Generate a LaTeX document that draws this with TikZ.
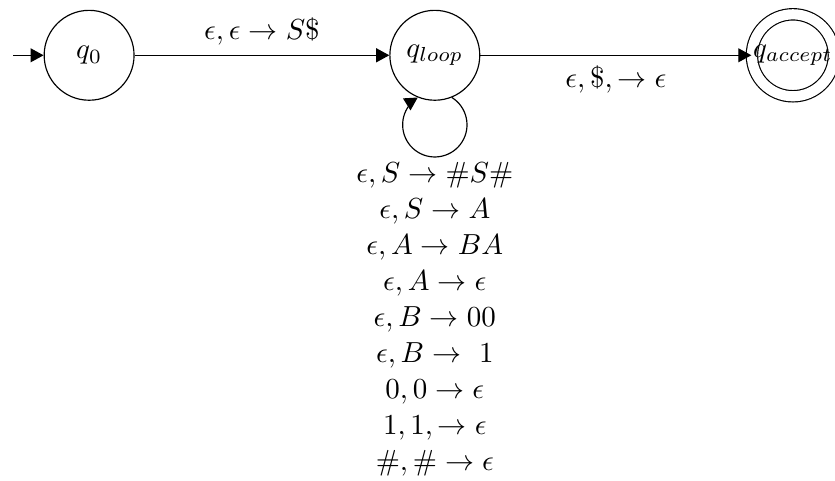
\documentclass[tikz,border=0pt]{standalone}
\usetikzlibrary{arrows.meta}

\begin{document}
\begin{tikzpicture}[>={Triangle[length=4.5pt, width=4.8pt]}, line join=round,
	state/.style={draw, circle, minimum size=31pt, inner sep=0pt},
	accept/.style={state, double, double distance=3.5pt, minimum size=27.5pt}]

	\useasboundingbox (0,0) rectangle (10.12,5.82);

	% ================= states =================
	\node[state]  (q0)    at (1.08,5.15) {$q_0$};
	\node[state]  (qloop) at (5.27,5.15) {$q_{loop}$};
	\node[accept] (qacc)  at (9.61,5.15) {$q_{accept}$};
	\coordinate (start) at (0.16,5.15);

	% ================= transitions =================
	\draw[->] (start) -- (q0);
	\draw[->] (q0) -- (qloop) node[midway, above] {$\epsilon, \epsilon \to S\$$};
	\draw[->] (qloop) -- (qacc) node[midway, below] {$\epsilon, \$, \to \epsilon$};
	\draw[->] (qloop.-68) arc[start angle=58, end angle=-238, radius=0.39];

	% stack rules on the self loop
	\node[align=center] (rules) at (5.27,1.95) {%
		$\epsilon, S \to \#S\#$\\[0.4pt]
		$\epsilon, S \to A$\\[0.4pt]
		$\epsilon, A \to BA$\\[0.4pt]
		$\epsilon, A \to \epsilon$\\[0.4pt]
		$\epsilon, B \to 00$\\[0.4pt]
		$\epsilon, B \to \ 1$\\[0.4pt]
		$0, 0 \to \epsilon$\\[0.4pt]
		$1, 1, \to \epsilon$\\[0.4pt]
		$\#, \# \to \epsilon$};

\end{tikzpicture}
\end{document}
